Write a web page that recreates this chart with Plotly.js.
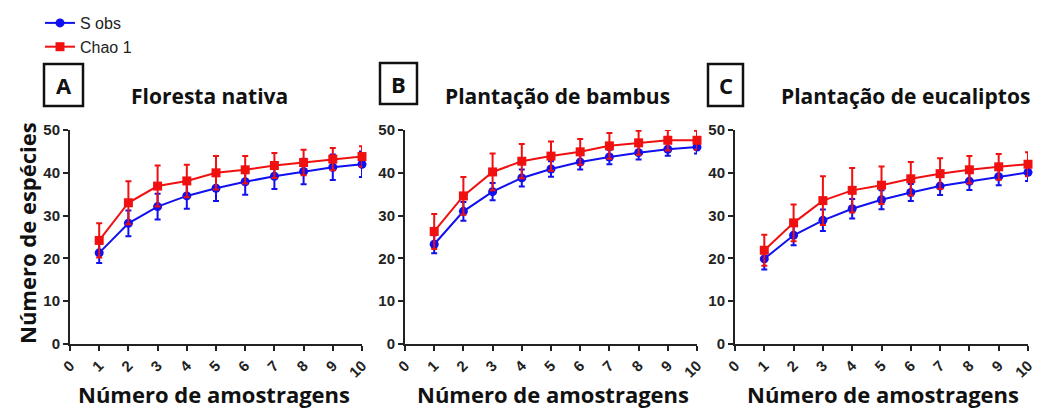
<!DOCTYPE html>
<html>
<head>
<meta charset="utf-8">
<script src="https://cdn.plot.ly/plotly-3.0.1.min.js"></script>
<style>html,body{margin:0;padding:0;background:#fff;}#chart{width:1042px;height:408px;}</style>
</head>
<body>
<div id="chart"></div>
<script>
const samples = [1,2,3,4,5,6,7,8,9,10];
const tickLabels = ['0','1','2','3','4','5','6','7','8','9','10'];
const panelTitles = ['Floresta nativa','Plantação de bambus','Plantação de eucaliptos'];
const panelLetters = ['A','B','C'];
const seriesNames = ['S obs','Chao 1'];

// Panel A - Floresta nativa
const sobsA = [21.3,28.2,32.1,34.6,36.4,37.9,39.2,40.3,41.3,42.0];
const sobsAerr = [2.4,3.0,3.0,3.0,3.0,3.0,3.0,3.0,3.0,3.0];
const chaoA = [24.2,33.0,36.9,38.1,40.0,40.7,41.7,42.4,43.2,43.8];
const chaoAerr = [4.0,5.0,4.8,3.8,3.9,3.2,2.9,3.0,2.6,2.4];

// Panel B - Plantação de bambus
const sobsB = [23.3,31.0,35.6,38.8,40.9,42.5,43.7,44.7,45.5,46.0];
const sobsBerr = [2.1,2.2,2.0,2.0,1.8,1.7,1.7,1.6,1.5,1.5];
const chaoB = [26.3,34.6,40.2,42.7,43.9,44.9,46.3,47.0,47.6,47.6];
const chaoBerr = [4.1,4.4,4.3,4.0,3.4,3.0,3.0,2.8,2.4,2.2];

// Panel C - Plantação de eucaliptos
const sobsC = [19.9,25.4,28.9,31.6,33.7,35.4,36.9,38.0,39.1,40.1];
const sobsCerr = [2.5,2.3,2.5,2.3,2.2,2.0,2.1,2.0,2.0,2.0];
const chaoC = [21.9,28.3,33.5,35.9,37.1,38.6,39.8,40.7,41.4,42.0];
const chaoCerr = [3.6,4.3,5.7,5.2,4.4,3.9,3.6,3.2,3.0,2.8];

const BLUE = '#1010f0';
const RED = '#f01010';
const sobsAll = [[sobsA,sobsAerr],[sobsB,sobsBerr],[sobsC,sobsCerr]];
const chaoAll = [[chaoA,chaoAerr],[chaoB,chaoBerr],[chaoC,chaoCerr]];

const W = 1042, H = 408;
const px = v => v / W;
const py = v => (H - v) / H;
const xDomains = [[70,362],[405,697],[735,1028]];
const yDomain = [py(344), py(130)];

const traces = [];
for (let i = 0; i < 3; i++) {
  const sfx = i === 0 ? '' : String(i + 1);
  traces.push({
    x: samples, y: sobsAll[i][0], name: seriesNames[0], type: 'scatter', mode: 'lines+markers',
    xaxis: 'x' + sfx, yaxis: 'y' + sfx, showlegend: i === 0, legendgroup: 's',
    line: {color: BLUE, width: 2}, marker: {color: BLUE, symbol: 'circle', size: 9},
    error_y: {type: 'data', array: sobsAll[i][1], visible: true, color: BLUE, thickness: 2, width: 3},
    cliponaxis: false
  });
}
for (let i = 0; i < 3; i++) {
  const sfx = i === 0 ? '' : String(i + 1);
  traces.push({
    x: samples, y: chaoAll[i][0], name: seriesNames[1], type: 'scatter', mode: 'lines+markers',
    xaxis: 'x' + sfx, yaxis: 'y' + sfx, showlegend: i === 0, legendgroup: 'c',
    line: {color: RED, width: 2}, marker: {color: RED, symbol: 'square', size: 9},
    error_y: {type: 'data', array: chaoAll[i][1], visible: true, color: RED, thickness: 2, width: 3},
    cliponaxis: false
  });
}

const tickFont = {family: 'Liberation Sans, Arial, sans-serif', size: 15, color: '#222', weight: 'bold'};
const titleFont = {family: 'Open Sans, sans-serif', size: 21, color: '#111'};
const axTitleFont = {family: 'Open Sans, sans-serif', size: 22, color: '#111'};

const layout = {
  width: W, height: H,
  margin: {l: 0, r: 0, t: 0, b: 0},
  paper_bgcolor: '#fff', plot_bgcolor: '#fff',
  showlegend: true,
  legend: {x: px(40), y: py(6), xanchor: 'left', yanchor: 'top', tracegroupgap: 0,
           font: {family: 'Liberation Sans, Arial, sans-serif', size: 16, color: '#222'},
           bgcolor: 'rgba(0,0,0,0)', itemwidth: 30},
  annotations: [], shapes: []
};

for (let i = 0; i < 3; i++) {
  const sfx = i === 0 ? '' : String(i + 1);
  layout['xaxis' + sfx] = {
    domain: [px(xDomains[i][0]), px(xDomains[i][1])], anchor: 'y' + sfx,
    range: [0, 10], tickmode: 'array', tickvals: [0,1,2,3,4,5,6,7,8,9,10], ticktext: tickLabels,
    tickangle: -45, showgrid: false, zeroline: false, showline: true, linecolor: '#222', linewidth: 2,
    ticks: 'outside', ticklen: 5, tickwidth: 2, tickcolor: '#222', tickfont: tickFont, fixedrange: true
  };
  layout['yaxis' + sfx] = {
    domain: yDomain, anchor: 'x' + sfx,
    range: [0, 50], tickvals: [0,10,20,30,40,50], showgrid: false, zeroline: false,
    showline: true, linecolor: '#222', linewidth: 2,
    ticks: 'outside', ticklen: 5, tickwidth: 2, tickcolor: '#222', tickfont: tickFont, fixedrange: true
  };
}

const titleCenters = [209, 557, 905];
const letterBoxes = [[44,64,83,106],[380,63,417,104],[708,64,743,106]];
const xTitleCenters = [214, 553, 883];
for (let i = 0; i < 3; i++) {
  layout.annotations.push({
    xref: 'paper', yref: 'paper', x: px(titleCenters[i]), y: py(96), xanchor: 'center', yanchor: 'middle',
    text: '<b>' + panelTitles[i] + '</b>', showarrow: false, font: titleFont
  });
  const b = letterBoxes[i];
  layout.shapes.push({type: 'rect', xref: 'paper', yref: 'paper',
    x0: px(b[0]), x1: px(b[2]), y0: py(b[3]), y1: py(b[1]), line: {color: '#111', width: 2.5}});
  layout.annotations.push({
    xref: 'paper', yref: 'paper', x: px((b[0] + b[2]) / 2), y: py((b[1] + b[3]) / 2), xanchor: 'center', yanchor: 'middle',
    text: '<b>' + panelLetters[i] + '</b>', showarrow: false, font: {family: 'Open Sans, sans-serif', size: 22, color: '#111'}
  });
  layout.annotations.push({
    xref: 'paper', yref: 'paper', x: px(xTitleCenters[i]), y: py(394), xanchor: 'center', yanchor: 'middle',
    text: '<b>Número de amostragens</b>', showarrow: false, font: axTitleFont
  });
}
layout.annotations.push({
  xref: 'paper', yref: 'paper', x: px(27), y: py(233), xanchor: 'center', yanchor: 'middle',
  text: '<b>Número de espécies</b>', textangle: -90, showarrow: false, font: axTitleFont
});

Plotly.newPlot('chart', traces, layout, {displayModeBar: false, staticPlot: true});
</script>
</body>
</html>
